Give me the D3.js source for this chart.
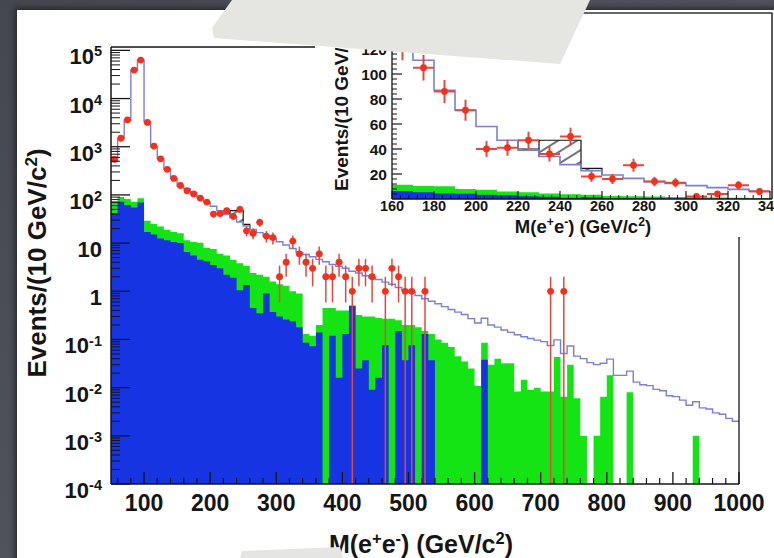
<!DOCTYPE html>
<html>
<head>
<meta charset="utf-8">
<script src="https://cdn.jsdelivr.net/npm/d3@7"></script>
<style>
body { margin: 0; background: #4d5057; }
svg { display: block; }
</style>
</head>
<body>
<div id="chart"></div>
<script>
// Dielectron mass spectrum, log view with a linear inset.
// Histograms use 10 GeV bins, low edge 50 GeV.

var massBins = d3.range(50, 1000, 10);

// total expectation (blue-violet step line)
var totalMC = [
  490, 1480, 3550, 39000, 63000, 3300, 1000, 570, 340, 220,
  152, 135, 111, 87, 71, 58, 47, 39, 34, 27.5,
  22.7, 19.2, 16.5, 13.9, 12.5, 10.7, 9.1, 7.7, 6.4, 5.8,
  5.2, 4.6, 4.1, 3.6, 3.3, 3.0, 2.6, 2.4, 2.1, 1.9,
  1.75, 1.55, 1.4, 1.2, 1.05, 0.95, 0.82, 0.7, 0.62, 0.55,
  0.48, 0.42, 0.37, 0.33, 0.27, 0.22, 0.275, 0.2, 0.18, 0.157,
  0.14, 0.125, 0.114, 0.105, 0.097, 0.09, 0.075, 0.098, 0.051, 0.073,
  0.045, 0.04, 0.033, 0.03, 0.032, 0.039, 0.018, 0.018, 0.022, 0.013,
  0.0115, 0.011, 0.0092, 0.0086, 0.0068, 0.0065, 0.0055, 0.0043, 0.0051, 0.0038,
  0.0036, 0.003, 0.0028, 0.0023, 0.002
];

// stacked backgrounds, green = top of stack
var greenStack = [
  75, 90, 82, 72, 85, 29, 25, 22, 19, 17,
  16, 11.5, 10.5, 10.2, 8.0, 7.5, 6.0, 5.5, 4.5, 3.8,
  3.4, 2.4, 2.2, 2.0, 1.6, 1.4, 1.3, 1.0, 0.9, 0.13,
  0.12, 0.2, 0.45, 0.45, 0.4, 0.4, 0.5, 0.32, 0.3, 0.3,
  0.28, 0.27, 0.27, 0.25, 0.2, 0.2, 0.18, 0.15, 0.13, 0.1,
  0.085, 0.07, 0.045, 0.035, 0.025, 0.011, 0.085, 0.03, 0.04, 0.032,
  0.032, 0.0083, 0.0145, 0.009, 0.01, 0.0083, 0.0083, 0.043, 0.0065, 0.03,
  0.006, 0.001, 0, 0.001, 0.0065, 0.018, 0, 0, 0.008, 0,
  0, 0, 0, 0, 0, 0, 0, 0, 0.001, 0,
  0, 0, 0, 0, 0
];

// lower component of the stack (blue)
var blueBkg = [
  42, 72, 62, 55, 70, 17, 15, 12.5, 11.5, 10.5,
  10, 6.5, 5.5, 4.5, 4.2, 3.5, 3.0, 2.2, 1.9, 1.05,
  1.35, 0.45, 0.35, 0.9, 0.37, 0.3, 0.26, 0.24, 0.18, 0.085,
  0.072, 0.14, 0, 0.12, 0.016, 0.13, 0.5, 0.025, 0.037, 0.009,
  0.016, 0.076, 0, 0.15, 0.037, 0.076, 0, 0.13, 0.037, 0,
  0, 0, 0, 0, 0, 0, 0.038, 0, 0, 0,
  0, 0, 0, 0, 0, 0, 0, 0, 0, 0,
  0, 0, 0, 0, 0, 0, 0, 0, 0, 0,
  0, 0, 0, 0, 0, 0, 0, 0, 0, 0,
  0, 0, 0, 0, 0
];

// observed events (bin centres, counts)
var dataMass = [55, 65, 75, 85, 95, 105, 115, 125, 135, 145,
  155, 165, 175, 185, 195, 205, 215, 225, 235, 245,
  255, 265, 275, 285, 295, 305, 315, 325, 335, 345,
  355, 365, 375, 385, 395, 405, 415, 425, 435, 445,
  465, 475, 485, 495, 505, 525, 715, 735];
var dataCounts = [550, 1500, 3600, 39000, 63000, 3200, 1030, 560, 340, 220,
  157, 122, 105, 86, 71, 40, 41, 47, 36, 50,
  18, 16, 27, 14, 13, 2, 4, 11, 6, 4,
  3, 6, 2, 2, 4, 2, 1, 3, 3, 2,
  1, 3, 2, 1, 1, 1, 1, 1];

// hatched uncertainty box
var sysBins = [220, 230, 240, 250];
var sysTop = [40, 47, 47, 24.5];

// axis labels
var mainXTicks = [100, 200, 300, 400, 500, 600, 700, 800, 900, 1000];
var mainYTicks = [1e5, 1e4, 1e3, 1e2, 10, 1, 1e-1, 1e-2, 1e-3, 1e-4];
var mainYLabels = [['10', '5'], ['10', '4'], ['10', '3'], ['10', '2'], ['10', ''],
  ['1', ''], ['10', '-1'], ['10', '-2'], ['10', '-3'], ['10', '-4']];
var insetXTicks = [160, 180, 200, 220, 240, 260, 280, 300, 320, 340];
var insetYTicks = [20, 40, 60, 80, 100, 120];

var FONT = "'Liberation Sans', Arial, Helvetica, sans-serif";
var GREEN = '#14e414', BLUE = '#1634e2', MCLINE = '#7c7fd8';
var RED = '#f3301b', ERR = '#e4483c', INK = '#151515';
var W = 774, H = 558;

var svg = d3.select('#chart').append('svg').attr('width', W).attr('height', H);
var defs = svg.append('defs');

/** Writes bold text where {sup:'x'} parts are raised. */
function supText(g, x, y, parts, size, anchor, rotate){
    var t = g.append('text')
        .attr('x', x).attr('y', y)
        .attr('font-family', FONT).attr('font-weight', 'bold')
        .attr('font-size', size).attr('text-anchor', anchor || 'start')
        .attr('fill', INK);
    if (rotate) t.attr('transform', 'rotate(' + rotate + ',' + x + ',' + y + ')');
    var raised = false;
    var lift = size * 0.36;
    parts.forEach(function(p){
        var up = (typeof p !== 'string');
        var txt = up ? p.sup : p;
        if (txt === '') return;
        var ts = t.append('tspan').text(txt);
        if (up && !raised) ts.attr('dy', -lift);
        if (!up && raised) ts.attr('dy', lift);
        if (up) ts.attr('font-size', size * 0.66);
        raised = up;
    });
    return t;
}

/** Turns bins and values into step points, closing at the last edge. */
function stepPoints(bins, vals){
    var pts = bins.map(function(b, i){ return [b, vals[i]]; });
    pts.push([bins[bins.length - 1] + 10, vals[vals.length - 1]]);
    return pts;
}

function line(g, x1, y1, x2, y2, w, c){
    g.append('line').attr('x1', x1).attr('y1', y1).attr('x2', x2).attr('y2', y2)
        .attr('stroke', c || INK).attr('stroke-width', w || 1);
}

/** Red markers with sqrt(N) bars; lower bar runs to floorY when it hits zero. */
function drawData(g, xs, ys, mass, counts, floorY, r, ew){
    for (var i = 0; i < mass.length; i++){
        var n = counts[i];
        var e = Math.sqrt(n);
        var cx = xs(mass[i]), cy = ys(n);
        var yLo = (n - e) > 0 ? ys(n - e) : floorY;
        line(g, cx, ys(n + e), cx, yLo, ew, ERR);
        line(g, xs(mass[i] - 5), cy, xs(mass[i] + 5), cy, ew, ERR);
        g.append('circle').attr('cx', cx).attr('cy', cy).attr('r', r).attr('fill', RED);
    }
}

/** Hatched box and its black outline. */
function drawSys(g, xs, ys, mcOf){
    for (var i = 0; i < sysBins.length; i++){
        var lo = mcOf(sysBins[i]);
        if (sysTop[i] <= lo) continue;
        g.append('rect')
            .attr('x', xs(sysBins[i])).attr('y', ys(sysTop[i]))
            .attr('width', xs(sysBins[i] + 10) - xs(sysBins[i]))
            .attr('height', ys(lo) - ys(sysTop[i]))
            .attr('fill', 'url(#hatch)');
    }
    var first = sysBins[0], last = sysBins[sysBins.length - 1] + 10;
    var pts = [[xs(first), ys(mcOf(first - 10))]];
    for (var j = 0; j < sysBins.length; j++){
        pts.push([xs(sysBins[j]), ys(sysTop[j])]);
        pts.push([xs(sysBins[j] + 10), ys(sysTop[j])]);
    }
    pts.push([xs(last), ys(mcOf(last))]);
    g.append('path').attr('d', d3.line()(pts))
        .attr('fill', 'none').attr('stroke', INK).attr('stroke-width', 1.2);
    // side of the box down to the expectation
    line(g, xs(sysBins[1]), ys(sysTop[0]), xs(sysBins[1]), ys(mcOf(sysBins[1])), 1.2);
}

function mcAt(b){ return totalMC[massBins.indexOf(b)]; }

// ---- backdrop and page ----
var grad = defs.append('linearGradient').attr('id', 'bgGrad')
    .attr('x1', 0).attr('y1', 0).attr('x2', 1).attr('y2', 1);
grad.append('stop').attr('offset', '0%').attr('stop-color', '#44474e');
grad.append('stop').attr('offset', '100%').attr('stop-color', '#5b5e65');
var blur = defs.append('filter').attr('id', 'soft');
blur.append('feGaussianBlur').attr('stdDeviation', 2.5);
var pat = defs.append('pattern').attr('id', 'hatch')
    .attr('patternUnits', 'userSpaceOnUse').attr('width', 10).attr('height', 10)
    .attr('patternTransform', 'rotate(-32)');
pat.append('line').attr('x1', 0).attr('y1', 5).attr('x2', 10).attr('y2', 5)
    .attr('stroke', INK).attr('stroke-width', 1.2);

svg.append('rect').attr('width', W).attr('height', H).attr('fill', 'url(#bgGrad)');
svg.append('rect').attr('x', 14).attr('y', 7).attr('width', W).attr('height', H)
    .attr('fill', '#222428').attr('opacity', 0.7).attr('filter', 'url(#soft)');
svg.append('rect').attr('x', 17).attr('y', 10).attr('width', W - 17).attr('height', H - 10)
    .attr('fill', '#ffffff');

// ---- main log plot ----
var M = {left: 111, right: 739, top: 47, bottom: 484};
var x = d3.scaleLinear().domain([50, 1000]).range([M.left, M.right]);
var y = d3.scaleLog().domain([1e-4, Math.pow(10, 5.07)]).range([M.bottom, M.top]).clamp(true);
function yv(v){ return y(Math.max(v, 1e-4)); }

defs.append('clipPath').attr('id', 'mainClip').append('rect')
    .attr('x', M.left).attr('y', M.top).attr('width', M.right - M.left).attr('height', M.bottom - M.top);
var mainG = svg.append('g').attr('clip-path', 'url(#mainClip)');

var areaLog = d3.area().curve(d3.curveStepAfter)
    .x(function(d){ return x(d[0]); }).y0(M.bottom).y1(function(d){ return yv(d[1]); });
var lineLog = d3.line().curve(d3.curveStepAfter)
    .x(function(d){ return x(d[0]); }).y(function(d){ return yv(d[1]); });

mainG.append('path').attr('d', areaLog(stepPoints(massBins, greenStack))).attr('fill', GREEN);
mainG.append('path').attr('d', areaLog(stepPoints(massBins, blueBkg))).attr('fill', BLUE);
drawSys(mainG, x, yv, mcAt);
mainG.append('path').attr('d', lineLog(stepPoints(massBins, totalMC)))
    .attr('fill', 'none').attr('stroke', MCLINE).attr('stroke-width', 1.4);
drawData(mainG, x, yv, dataMass, dataCounts, M.bottom, 3.4, 1.5);

// frame
var axG = svg.append('g');
line(axG, M.left, M.top, M.right, M.top, 1.3);
line(axG, M.right, M.top, M.right, M.bottom, 1.3);
line(axG, M.left, M.top, M.left, M.bottom, 1.5);
line(axG, M.left, M.bottom, M.right, M.bottom, 1.5);

// x ticks
d3.range(60, 1000, 20).forEach(function(v){
    if (v % 100 !== 0) line(axG, x(v), M.bottom, x(v), M.bottom - 6, 1.2);
});
mainXTicks.forEach(function(v){
    line(axG, x(v), M.bottom, x(v), M.bottom - 12, 1.3);
    supText(axG, x(v), 511, [String(v)], 23, 'middle');
});

// y ticks
for (var d = -4; d <= 5; d++){
    for (var m = 2; m <= 9; m++){
        var v = m * Math.pow(10, d);
        if (y(v) > M.top) line(axG, M.left, y(v), M.left + 9, y(v), 1);
    }
}
mainYTicks.forEach(function(v, i){
    line(axG, M.left, y(v), M.left + 19, y(v), 1.3);
    var lab = mainYLabels[i];
    supText(axG, 102, y(v) + 14, [lab[0], {sup: lab[1]}], 22, 'end');
});

supText(svg, 421, 553, ['M(e', {sup: '+'}, 'e', {sup: '-'}, ') (GeV/c', {sup: '2'}, ')'], 25, 'middle');
supText(svg, 46, 263, ['Events/(10 GeV/c', {sup: '2'}, ')'], 26, 'middle', -90);

// ---- inset, linear scale ----
var I = {left: 392, right: 770, top: 36, bottom: 199};
svg.append('rect').attr('x', 315).attr('y', 13).attr('width', 457).attr('height', 224).attr('fill', '#fff');
line(svg, 315, 13, 772.5, 13, 1.6, '#333');
line(svg, 772, 13, 772, 199, 1.6, '#333');

var xi = d3.scaleLinear().domain([160, 340]).range([I.left, I.right]);
var yi = d3.scaleLinear().domain([0, 125]).range([I.bottom, 42.75]);

defs.append('clipPath').attr('id', 'insetClip').append('rect')
    .attr('x', I.left).attr('y', I.top).attr('width', 772 - I.left).attr('height', I.bottom - I.top);
var inG = svg.append('g').attr('clip-path', 'url(#insetClip)');

var inBins = [], inGreen = [], inBlue = [], inMC = [];
massBins.forEach(function(b, i){
    if (b >= 160 && b < 340){
        inBins.push(b); inGreen.push(greenStack[i]); inBlue.push(blueBkg[i]); inMC.push(totalMC[i]);
    }
});
var areaLin = d3.area().curve(d3.curveStepAfter)
    .x(function(d){ return xi(d[0]); }).y0(I.bottom).y1(function(d){ return yi(d[1]); });
var lineLin = d3.line().curve(d3.curveStepAfter)
    .x(function(d){ return xi(d[0]); }).y(function(d){ return yi(d[1]); });

inG.append('path').attr('d', areaLin(stepPoints(inBins, inGreen))).attr('fill', GREEN);
inG.append('path').attr('d', areaLin(stepPoints(inBins, inBlue))).attr('fill', BLUE);
drawSys(inG, xi, yi, mcAt);
inG.append('path').attr('d', lineLin(stepPoints(inBins, inMC)))
    .attr('fill', 'none').attr('stroke', MCLINE).attr('stroke-width', 1.6);

var inMass = [], inCounts = [];
dataMass.forEach(function(mv, i){
    if (mv > 160 && mv < 340){ inMass.push(mv); inCounts.push(dataCounts[i]); }
});
drawData(inG, xi, yi, inMass, inCounts, I.bottom, 3.4, 2);

var inAx = svg.append('g');
line(inAx, I.left, I.top - 10, I.left, I.bottom, 1.3);
line(inAx, I.left, I.bottom, 772, I.bottom, 1.3);
d3.range(164, 340, 4).forEach(function(v){
    if ((v - 160) % 20 !== 0) line(inAx, xi(v), I.bottom, xi(v), I.bottom - 4, 1);
});
insetXTicks.forEach(function(v){
    line(inAx, xi(v), I.bottom, xi(v), I.bottom - 8, 1.2);
    supText(inAx, xi(v), 211, [String(v)], 14.5, 'middle');
});
d3.range(4, 136, 4).forEach(function(v){
    if (v % 20 !== 0) line(inAx, I.left, yi(v), I.left + 5, yi(v), 1);
});
insetYTicks.forEach(function(v){
    line(inAx, I.left, yi(v), I.left + 10, yi(v), 1.2);
    supText(inAx, 387, yi(v) + 5.5, [String(v)], 15.5, 'end');
});
supText(svg, 583, 233, ['M(e', {sup: '+'}, 'e', {sup: '-'}, ') (GeV/c', {sup: '2'}, ')'], 18.5, 'middle');
supText(svg, 348, 191, ['Events/(10 GeV/c', {sup: '2'}, ')'], 19, 'start', -90);

// ---- paper strips on top ----
var tapeTop = [[232, 0], [590, 0], [560, 64], [214, 38], [212, 28]];
var tapeBottom = [[242, 551], [340, 547], [343, 558], [240, 558]];
[tapeTop, tapeBottom].forEach(function(p){
    svg.append('polygon').attr('points', p.map(function(q){ return q.join(','); }).join(' '))
        .attr('fill', '#e5e5e2');
});
</script>
</body>
</html>
